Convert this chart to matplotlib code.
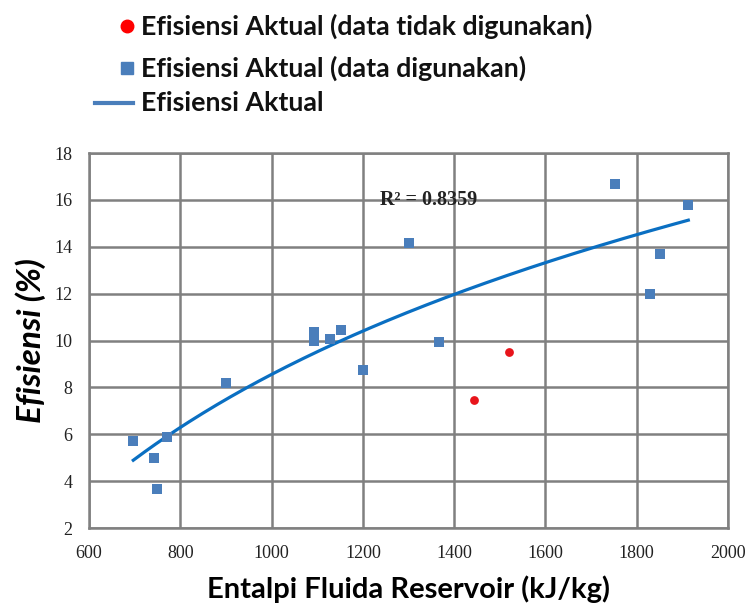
import matplotlib.pyplot as plt
import numpy as np
from matplotlib.lines import Line2D

# data
x_used = [697, 742, 750, 770, 900, 1092, 1092, 1127, 1152, 1201, 1302, 1366, 1753, 1828, 1852, 1913]
y_used = [5.7, 5.0, 3.65, 5.9, 8.2, 10.35, 10.0, 10.05, 10.45, 8.75, 14.15, 9.93, 16.68, 12.0, 13.7, 15.8]
x_unused = [1444, 1520]
y_unused = [7.45, 9.5]
x_ticks = [600, 800, 1000, 1200, 1400, 1600, 1800, 2000]
y_ticks = [2, 4, 6, 8, 10, 12, 14, 16, 18]
r2_text = "R² = 0.8359"

blue = '#4a7ebb'
red = '#e8141b'
line_blue = '#0a6fc2'
grid_gray = '#808080'

fig = plt.figure(figsize=(7.51, 6.06), dpi=100)
ax = fig.add_axes([0.1185, 0.1287, 0.8509, 0.6188])

# logarithmic trendline through the used points
a, b = np.polyfit(np.log(x_used), y_used, 1)
xs = np.linspace(min(x_used), max(x_used), 200)
ax.plot(xs, a * np.log(xs) + b, color=line_blue, lw=2.3, zorder=3)

ax.scatter(x_used, y_used, marker='s', s=55, color=blue, zorder=4, linewidths=0)
ax.scatter(x_unused, y_unused, marker='o', s=40, color=red, zorder=4, linewidths=0)

ax.set_xlim(600, 2000)
ax.set_ylim(2, 18)
ax.set_xticks(x_ticks)
ax.set_yticks(y_ticks)
ax.grid(True, color=grid_gray, lw=1.8)
ax.set_axisbelow(True)
for s in ax.spines.values():
    s.set_color(grid_gray)
    s.set_linewidth(1.8)
ax.tick_params(length=0, pad=12, labelsize=13)
for lab in ax.get_xticklabels() + ax.get_yticklabels():
    lab.set_fontfamily('Liberation Serif')
    lab.set_color('#222222')

ax.text(1345, 16.0, r2_text, family='Liberation Serif', fontsize=14.5, fontweight='bold',
        ha='center', va='center', color='#222222')

ax.set_xlabel('Entalpi Fluida Reservoir (kJ/kg)', family='Lato', fontweight='bold', fontsize=21, labelpad=10)
ax.set_ylabel('Efisiensi (%)', family='Lato', fontweight='bold', style='italic', fontsize=24, labelpad=6)

# legend drawn at the top of the figure
rows = [(1 - 26 / 606, 'circle', 'Efisiensi Aktual (data tidak digunakan)'),
        (1 - 68 / 606, 'square', 'Efisiensi Aktual (data digunakan)'),
        (1 - 103 / 606, 'line', 'Efisiensi Aktual')]
for yy, kind, label in rows:
    if kind == 'circle':
        fig.add_artist(Line2D([127 / 751], [yy], marker='o', ms=9, color='red', mec='red', ls='none'))
    elif kind == 'square':
        fig.add_artist(Line2D([127 / 751], [yy], marker='s', ms=9, color=blue, mec=blue, ls='none'))
    else:
        fig.add_artist(Line2D([95 / 751, 133 / 751], [yy, yy], color=blue, lw=3))
    fig.text(141 / 751, yy, label, family='Lato', fontweight='bold', fontsize=19.3, va='center', color='#111111')

fig.savefig('out.png', dpi=100)
